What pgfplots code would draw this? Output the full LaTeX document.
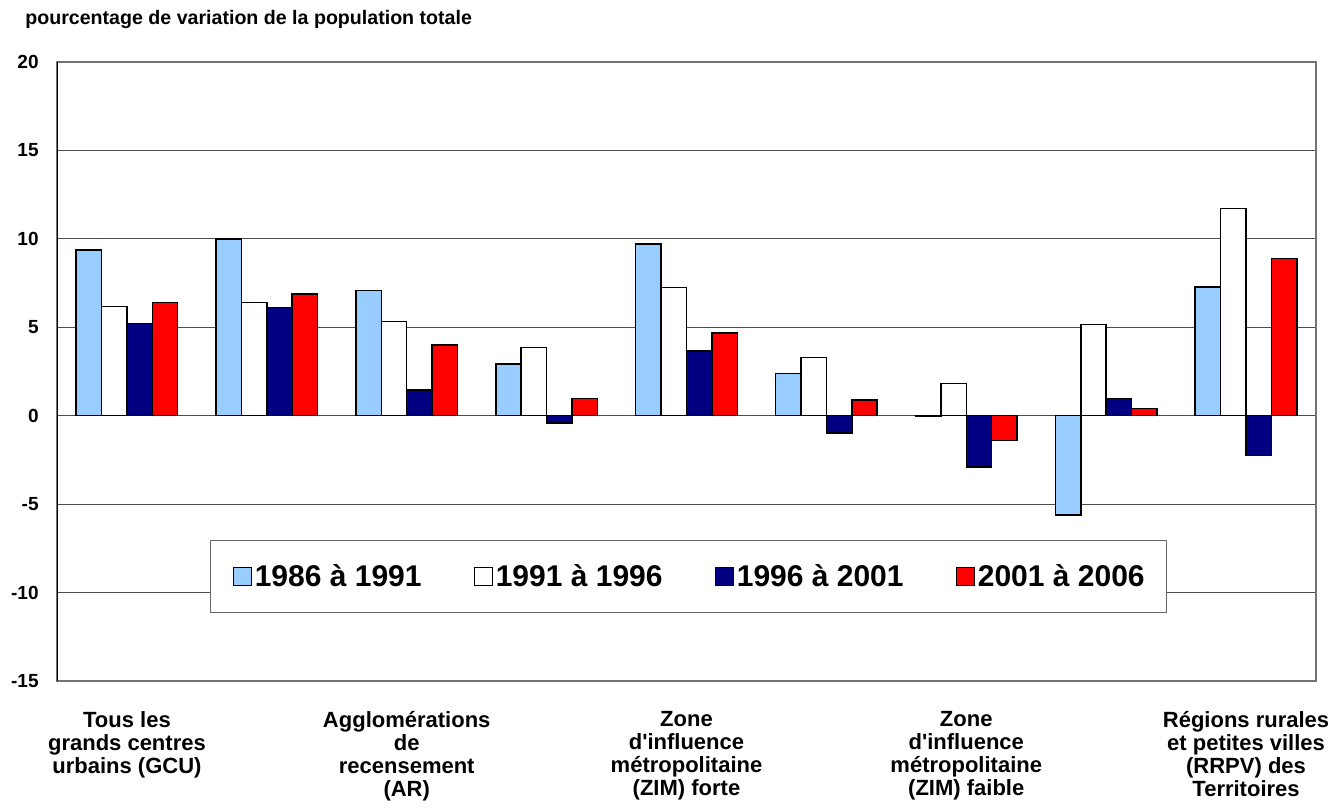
\documentclass[border=0pt]{standalone}
\usepackage{pgfplots}
\pgfplotsset{compat=1.18}
\usepackage{fontspec}
\setmainfont{Liberation Sans}
\definecolor{lblue}{HTML}{99CCFF}
\definecolor{navy}{HTML}{000080}
\definecolor{rred}{HTML}{FF0000}
\begin{document}
\begin{tikzpicture}
\useasboundingbox (0,0) rectangle (672pt,404.5pt);
\node[anchor=base west, inner sep=0pt, font=\fontsize{9.8}{12}\selectfont\bfseries] at (12.5pt,392pt) {pourcentage de variation de la population totale};
\begin{axis}[
  at={(28.5pt,64pt)}, anchor=south west,
  scale only axis, width=629.5pt, height=309.5pt,
  ybar=0pt, bar width=12.7pt,
  xmin=-0.5, xmax=8.5, ymin=-15, ymax=20,
  ytick={-15,-10,...,20},
  xtick={0,2,4,6,8},
  xticklabels={{Tous les\\grands centres\\urbains (GCU)},{Agglomérations\\de\\recensement\\(AR)},{Zone\\d\textquotesingle influence\\métropolitaine\\(ZIM) forte},{Zone\\d\textquotesingle influence\\métropolitaine\\(ZIM) faible},{Régions rurales\\et petites villes\\(RRPV) des\\Territoires}},
  major tick length=0pt,
  ymajorgrids, grid style={black!70, line width=0.5pt},
  axis line style={draw=black!55, line width=0.6pt},
  /pgf/number format/assume math mode=true,
  yticklabel style={font=\fontsize{9.5}{11}\selectfont\bfseries, inner sep=0pt, xshift=-9pt},
  xticklabel style={font=\fontsize{11}{11.5}\selectfont\bfseries, align=center, inner sep=0pt, anchor=north, yshift=-15pt},
  every axis plot/.append style={draw=black, line width=0.75pt},
  legend columns=4,
  legend style={at={(0.1215,0.2278)}, anchor=north west, draw=black!60, fill=white, line width=0.6pt,
    font=\fontsize{15}{17}\selectfont\bfseries, inner xsep=11pt, inner ysep=12pt,
    nodes={inner sep=0pt, text height=11pt, text depth=1pt},
    /tikz/every odd column/.append style={column sep=1.5pt},
    /tikz/every even column/.append style={column sep=26pt}},
  legend image code/.code={\draw[#1, line width=0.6pt, bar width=0pt, bar shift=0pt] (0pt,-4.5pt) rectangle (9pt,4.5pt);},
]
\addplot[fill=lblue] coordinates {(0,9.38) (1,10.0) (2,7.07) (3,2.92) (4,9.70) (5,2.40) (6,-0.05) (7,-5.60) (8,7.27)};
\addplot[fill=white] coordinates {(0,6.17) (1,6.41) (2,5.32) (3,3.87) (4,7.26) (5,3.28) (6,1.83) (7,5.15) (8,11.73)};
\addplot[fill=navy] coordinates {(0,5.20) (1,6.13) (2,1.45) (3,-0.40) (4,3.66) (5,-0.98) (6,-2.90) (7,0.98) (8,-2.26)};
\addplot[fill=rred] coordinates {(0,6.41) (1,6.87) (2,4.00) (3,0.96) (4,4.68) (5,0.90) (6,-1.40) (7,0.40) (8,8.88)};
\legend{1986 à 1991,1991 à 1996,1996 à 2001,2001 à 2006}
\draw[black, line width=0.6pt] (rel axis cs:0,0) -- (rel axis cs:0,1);
\end{axis}
\end{tikzpicture}
\end{document}
